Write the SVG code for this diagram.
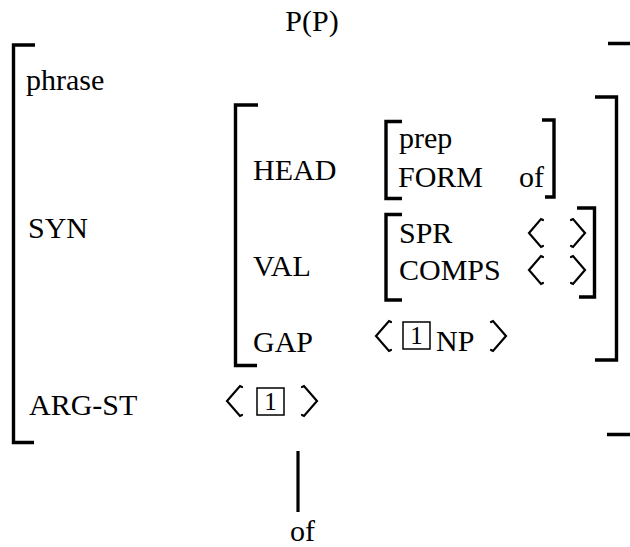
<svg xmlns="http://www.w3.org/2000/svg" width="630" height="547" viewBox="0 0 630 547">
<style>
  .t { font-family: "Liberation Serif", "Times New Roman", serif; font-size: 30px; fill: #000; }
  .d { font-family: "Liberation Serif", "Times New Roman", serif; font-size: 25px; fill: #000; text-anchor: middle; }
  .br { fill: none; stroke: #000; stroke-width: 3.4; stroke-linecap: butt; stroke-linejoin: miter; }
  .ang { fill: none; stroke: #000; stroke-width: 2.2; stroke-linecap: round; stroke-linejoin: miter; }
  .box { fill: none; stroke: #000; stroke-width: 1.5; }
  .edge { stroke: #000; stroke-width: 3.2; }
</style>
<rect width="630" height="547" fill="#fff"/>

<g id="avm-phrase">
  <text class="t" x="312" y="31" text-anchor="middle">P(P)</text>
  <path class="br" d="M35,45 H13.5 V442.5 H34"/>
  <path class="br" d="M608,43.5 H632 V434.5 H607"/>
  <text class="t" x="26" y="90">phrase</text>
  <text class="t" x="28" y="238">SYN</text>
  <text class="t" x="29" y="415">ARG-ST</text>
  <!-- ARG-ST list -->
  <path class="ang" d="M242,387 L240,386 L227,401 L240,416 L242,415"/>
  <rect class="box" x="257" y="388" width="27" height="27"/>
  <text class="d" x="270.5" y="410">1</text>
  <path class="ang" d="M302,387 L304,386 L317,401 L304,416 L302,415"/>
</g>

<g id="avm-syn">
  <path class="br" d="M258,105 H235.5 V365.5 H257"/>
  <path class="br" d="M595,97 H616.5 V360 H595"/>
  <text class="t" x="253" y="180">HEAD</text>
  <text class="t" x="253" y="276">VAL</text>
  <text class="t" x="253" y="352">GAP</text>
</g>

<g id="avm-head">
  <path class="br" d="M402,121.5 H386 V198.5 H402"/>
  <path class="br" d="M542,120 H554 V197 H545"/>
  <text class="t" x="399" y="148">prep</text>
  <text class="t" x="398" y="187">FORM</text>
  <text class="t" x="519" y="187">of</text>
</g>

<g id="avm-val">
  <path class="br" d="M402,214.5 H386 V300 H402"/>
  <path class="br" d="M577,208 H594.5 V297 H579"/>
  <text class="t" x="399" y="243">SPR</text>
  <text class="t" x="399" y="280">COMPS</text>
  <path class="ang" d="M543,220 L541,219 L529,233 L541,247 L543,246"/>
  <path class="ang" d="M571,220 L573,219 L585,233 L573,247 L571,246"/>
  <path class="ang" d="M543,257 L541,256 L529,270 L541,284 L543,283"/>
  <path class="ang" d="M571,257 L573,256 L585,270 L573,284 L571,283"/>
</g>

<g id="avm-gap">
  <path class="ang" d="M391,322 L389,321 L376,336 L389,351 L391,350"/>
  <rect class="box" x="403" y="322" width="27" height="27"/>
  <text class="d" x="416.5" y="344">1</text>
  <text class="t" x="436" y="351">NP</text>
  <path class="ang" d="M491,322 L493,321 L506,336 L493,351 L491,350"/>
</g>

<g id="leaf-of">
  <text class="t" x="290" y="541">of</text>
</g>

<g id="connectors">
  <line class="edge" x1="298" y1="451" x2="298" y2="512"/>
</g>
</svg>
